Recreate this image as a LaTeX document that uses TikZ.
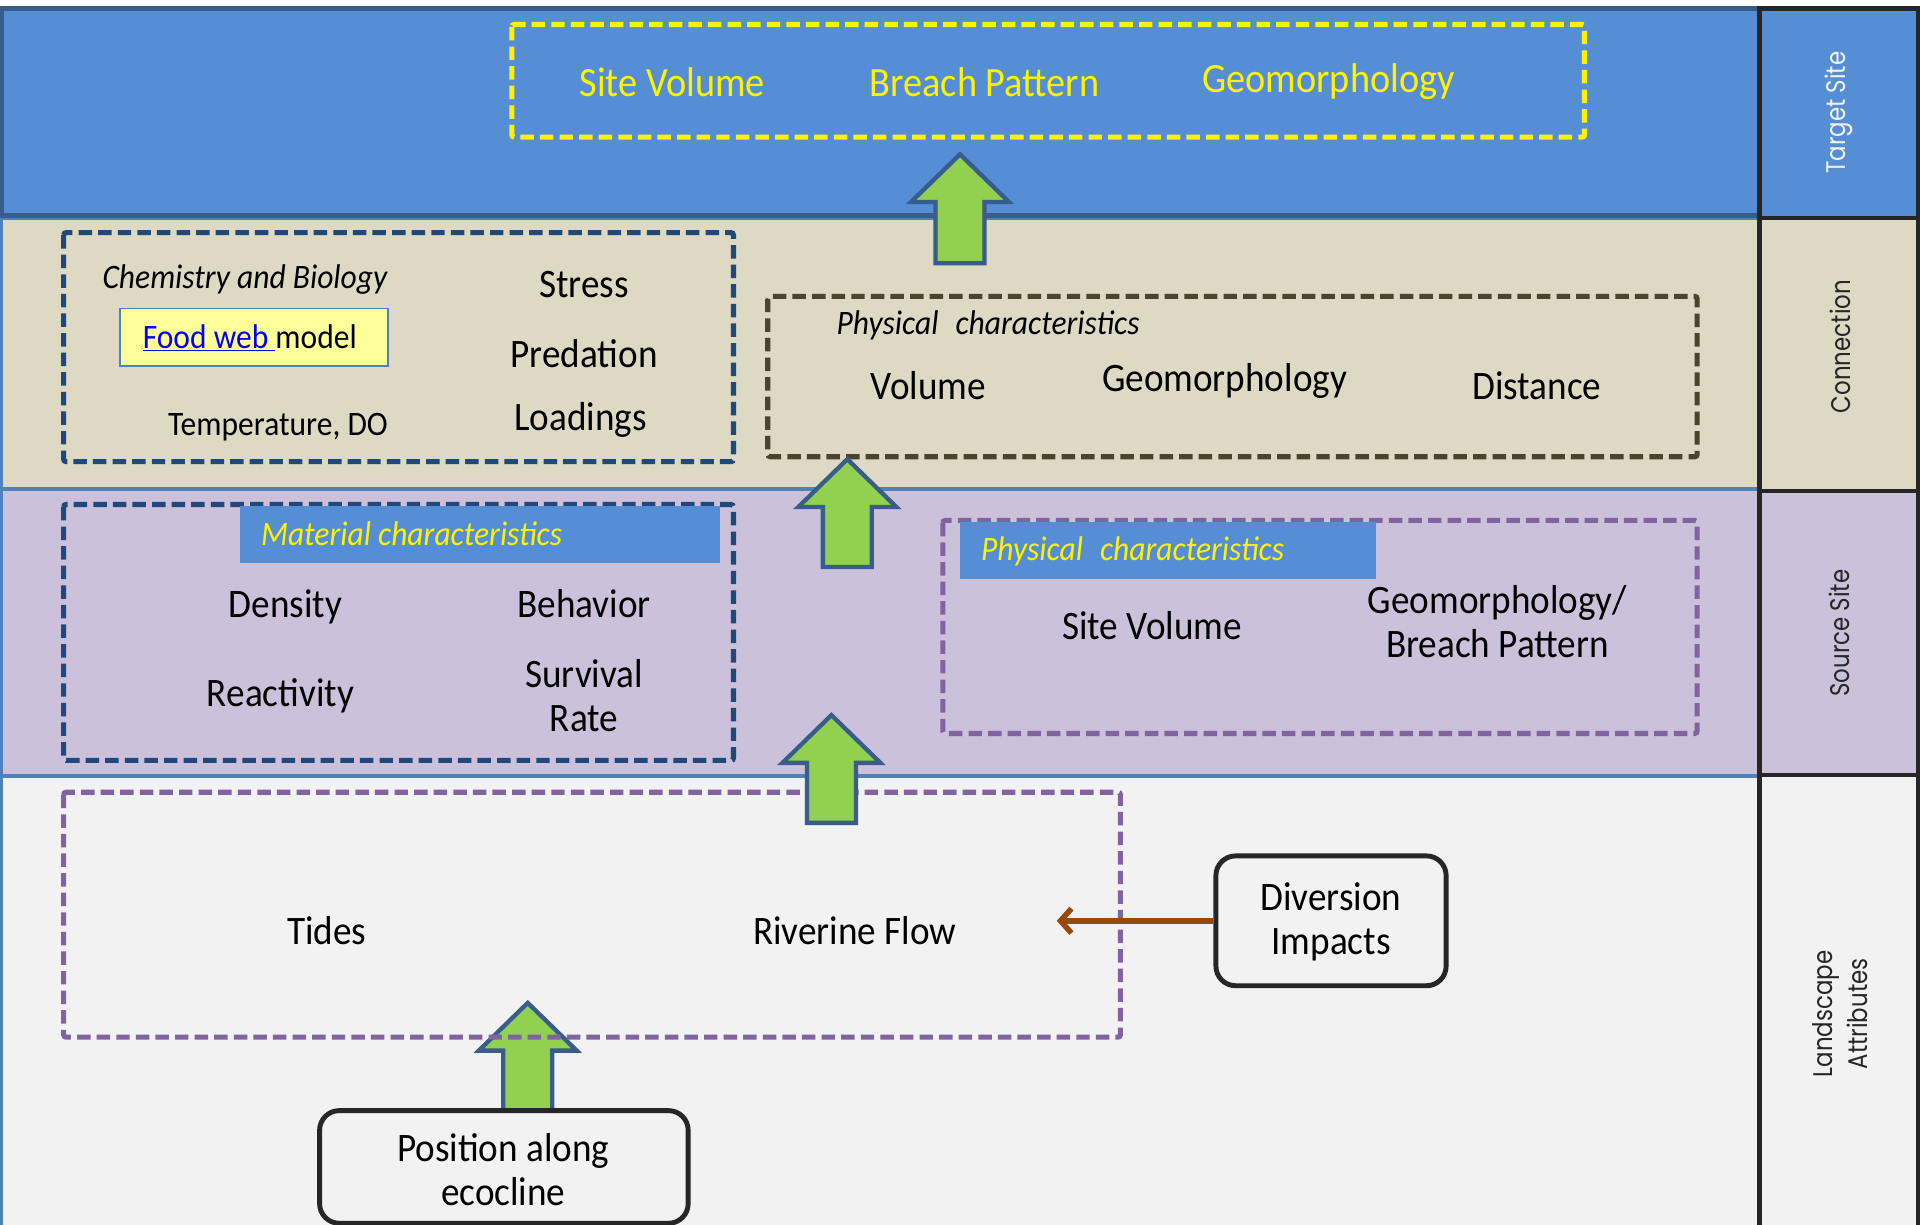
\documentclass[tikz,border=0pt]{standalone}
\usepackage{fontspec}
\setmainfont{Carlito}[FakeStretch=0.92]
\newfontfamily\lblfont{Poppins}[FakeStretch=0.85]
\usetikzlibrary{arrows.meta,calc}

\definecolor{tgtblue}{HTML}{558ED5}
\definecolor{tgtedge}{HTML}{385D8A}
\definecolor{bandedge}{HTML}{4F81BD}
\definecolor{tanfill}{HTML}{DDD9C3}
\definecolor{lavfill}{HTML}{CCC1DA}
\definecolor{greyfill}{HTML}{F2F2F2}
\definecolor{navydash}{HTML}{1F497D}
\definecolor{olivedash}{HTML}{4A452A}
\definecolor{purpdash}{HTML}{8064A2}
\definecolor{arrowgreen}{HTML}{92D050}
\definecolor{rust}{HTML}{984807}
\definecolor{framedark}{HTML}{262626}
\definecolor{paleyellow}{HTML}{FFFF99}
\definecolor{linkblue}{HTML}{0000FF}

\tikzset{
  band/.style={line width=2.5pt, draw=bandedge},
  colcell/.style={line width=3.5pt, draw=framedark},
  dbox/.style={line width=4.2pt, dash pattern=on 11pt off 5pt, rounded corners=2pt},
  body/.style={inner sep=0pt, align=center, text=black, font=\fontsize{33}{36}\selectfont},
  toptext/.style={inner sep=0pt, text=yellow, font=\fontsize{34}{38}\selectfont},
  ital/.style={inner sep=0pt, text=black, font=\fontsize{28}{32}\selectfont\itshape},
  hdrtext/.style={inner sep=0pt, anchor=west, text=yellow, font=\fontsize{28}{32}\selectfont\itshape},
  hdrbar/.style={fill=tgtblue, draw=none},
  collabel/.style={inner sep=0pt, rotate=90, align=center, text=framedark,
                   font=\lblfont\fontsize{22}{28.6}\selectfont},
  garrow/.style={fill=arrowgreen, draw=tgtedge, line width=3.5pt, line join=miter},
  roundbox/.style={draw=framedark, fill=greyfill, line width=4pt, rounded corners=16pt},
  impact/.style={draw=rust, line width=4.5pt, -{Straight Barb[length=9pt,width=20pt,line width=4.5pt]}},
}

% upward block arrow from a tip coordinate down to a base coordinate
\newcommand{\blockup}[2]{%
  \filldraw[garrow] (#1) -- ++(40,39) -- ++(-20,0) -- ($(#2)+(20,0)$)
    -- ($(#2)+(-20,0)$) -- ($(#1)+(-20,39)$) -- ++(-20,0) -- cycle;}

\begin{document}
\begin{tikzpicture}[x=1pt,y=-1pt]
\useasboundingbox (0,0) rectangle (1568,1000);
\fill[white] (0,0) rectangle (1568,1000);

% ---------- horizontal bands ----------
\filldraw[band, fill=greyfill] (1.2,634) rectangle (1437,1003);
\filldraw[band, fill=lavfill] (1.2,400) rectangle (1437,633);
\filldraw[band, fill=tanfill] (1.2,178.5) rectangle (1437,399);
\filldraw[fill=tgtblue, draw=tgtedge, line width=3.5pt] (1.5,7) rectangle (1437,176);

% ---------- side column ----------
\filldraw[colcell, fill=tgtblue] (1437,7) rectangle (1566.5,178);
\filldraw[colcell, fill=tanfill] (1437,178) rectangle (1566.5,401);
\filldraw[colcell, fill=lavfill] (1437,401) rectangle (1566.5,633);
\filldraw[colcell, fill=greyfill] (1437,633) rectangle (1566.5,1005);
\node[collabel, text=greyfill] (lblT) at (1502,92) {Target Site};
\node[collabel] (lblC) at (1503,283) {Connection};
\node[collabel] (lblS) at (1502,517) {Source Site};
\node[collabel] (lblL) at (1503,828) {Landscape\\Attributes};

% ---------- target site ----------
\draw[dbox, draw=yellow] (418,20) rectangle (1294,112);
\node[toptext] (tVol) at (549,67) {Site Volume};
\node[toptext] (tBreach) at (804,67) {Breach Pattern};
\node[toptext] (tGeo) at (1085,67) {Geomorphology};

% ---------- connection ----------
\draw[dbox, draw=navydash] (52,190) rectangle (599,377);
\node[ital] (chem) at (200,228) {Chemistry and Biology};
\node[draw=bandedge, line width=1.5pt, fill=paleyellow, minimum width=219pt,
      minimum height=47pt, inner sep=0pt] (foodweb) at (207.5,275.5) {};
\node[ital, font=\fontsize{28}{32}\selectfont] (foodtxt) at (204,276)
  {{\color{linkblue}\underline{Food web\ }}model};
\node[ital, font=\fontsize{28}{32}\selectfont] (temp) at (227,349) {Temperature, DO};
\node[body] (stress) at (477,232) {Stress};
\node[body] (pred) at (477,289) {Predation};
\node[body] (load) at (474,343) {Loadings};

\draw[dbox, draw=olivedash] (627,242) rectangle (1386,373);
\node[ital, anchor=west] (cPhys) at (683,266) {Physical\enspace characteristics};
\node[body] (cVol) at (758,315) {Volume};
\node[body] (cGeo) at (1000,311) {Geomorphology};
\node[body] (cDist) at (1255,315) {Distance};

% ---------- source site ----------
\draw[dbox, draw=navydash] (52,412) rectangle (599,621);
\fill[hdrbar] (196,413) rectangle (588,460);
\node[hdrtext] (matHdr) at (213,436) {Material characteristics};
\node[body] (dens) at (233,496) {Density};
\node[body] (behav) at (477,493) {Behavior};
\node[body] (react) at (229,568) {Reactivity};
\node[body] (surv) at (477,568) {Survival\\Rate};

\draw[dbox, draw=purpdash] (770,425) rectangle (1386,599);
\fill[hdrbar] (784,426) rectangle (1124,473);
\node[hdrtext] (sPhys) at (801,450) {Physical\enspace characteristics};
\node[body] (sVol) at (941,511) {Site Volume};
\node[body] (sGeo) at (1223,508) {Geomorphology/\\Breach Pattern};

% ---------- landscape attributes ----------
\coordinate (a4tip) at (431,819);
\coordinate (a4base) at (431,907);
\blockup{a4tip}{a4base}

\draw[dbox, draw=purpdash] (52,647) rectangle (915,847);
\node[body] (tides) at (267,760) {Tides};
\node[body] (river) at (698,760) {Riverine Flow};

\node[roundbox, minimum width=188pt, minimum height=106pt, inner sep=0pt] (divbox) at (1087,752) {};
\node[body] (divtxt) at (1087,753) {Diversion\\Impacts};
\coordinate (rivtip) at (863,752);
\draw[impact] (divbox.west) -- (rivtip);

\node[roundbox, minimum width=301pt, minimum height=92pt, inner sep=0pt] (posbox) at (411.5,953) {};
\node[body] (postxt) at (411,955) {Position along\\ecocline};

% ---------- green block arrows between levels ----------
\coordinate (a1tip) at (784,126);
\coordinate (a1base) at (784,215);
\blockup{a1tip}{a1base}
\coordinate (a2tip) at (692,375);
\coordinate (a2base) at (692,463);
\blockup{a2tip}{a2base}
\coordinate (a3tip) at (679,584);
\coordinate (a3base) at (679,672);
\blockup{a3tip}{a3base}

\end{tikzpicture}
\end{document}
